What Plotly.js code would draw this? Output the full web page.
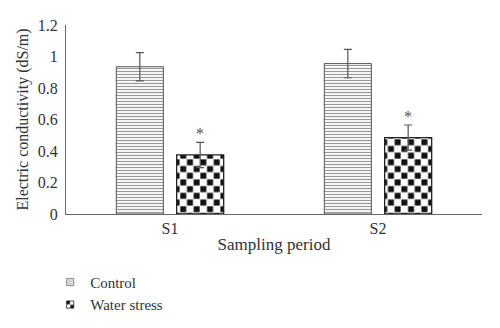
<!DOCTYPE html>
<html><head><meta charset="utf-8">
<script src="https://cdn.plot.ly/plotly-3.0.1.min.js"></script>
<style>html,body{margin:0;padding:0;background:#fff;}#chart{width:500px;height:328px;}</style>
</head><body><div id="chart"></div>
<script>
const categories = ["S1", "S2"];
const controlValues = [0.935, 0.955];
const controlErrors = [0.09, 0.09];
const stressValues = [0.375, 0.485];
const stressErrors = [0.08, 0.08];
const stressMarks = ["*", "*"];
const yTickVals = [0, 0.2, 0.4, 0.6, 0.8, 1, 1.2];
const yTickText = ["0", "0.2", "0.4", "0.6", "0.8", "1", "1.2"];

const serif = "Liberation Serif, Times New Roman, serif";
const traces = [
  {
    type: "bar", name: "Control", x: categories, y: controlValues,
    error_y: {type: "data", array: controlErrors, visible: true, color: "#555", thickness: 1.2, width: 4},
    marker: {color: "#fff", line: {color: "#555", width: 1},
      pattern: {shape: "-", fgcolor: "#999", bgcolor: "#fff", size: 3, solidity: 0.4}}
  },
  {
    type: "bar", name: "Water stress", x: categories, y: stressValues,
    error_y: {type: "data", array: stressErrors, visible: true, color: "#555", thickness: 1.2, width: 4},
    marker: {color: "#fff", line: {color: "#222", width: 1.3},
      pattern: {shape: ".", fgcolor: "#000", bgcolor: "#fff", size: 9, solidity: 0.3}}
  }
];
const annotations = categories.map((c, i) => ({
  x: c, y: stressValues[i] + stressErrors[i], xref: "x", yref: "y",
  text: stressMarks[i], showarrow: false, xshift: 30, yanchor: "bottom", yshift: -2,
  font: {family: serif, size: 16, color: "#555"}
}));
const layout = {
  width: 500, height: 328,
  margin: {l: 66, r: 18, t: 25, b: 114, autoexpand: false},
  paper_bgcolor: "#fff", plot_bgcolor: "#fff",
  barmode: "group", bargap: 0.42, bargroupgap: 0.22,
  font: {family: serif, size: 16, color: "#333"},
  showlegend: true,
  legend: {orientation: "v", x: -0.038, xanchor: "left", y: -0.274, yanchor: "top",
    font: {family: serif, size: 15, color: "#333"}, tracegroupgap: 0, itemwidth: 30},
  xaxis: {
    showline: true, linecolor: "#666", linewidth: 1, ticks: "", showgrid: false, zeroline: false,
    tickfont: {family: serif, size: 16, color: "#333"},
    title: {text: "Sampling period", font: {family: serif, size: 17, color: "#333"}, standoff: 1}
  },
  yaxis: {
    range: [0, 1.2], showline: true, linecolor: "#666", linewidth: 1, ticks: "", showgrid: false, zeroline: false,
    tickvals: yTickVals, ticktext: yTickText, ticklabelstandoff: 4,
    tickfont: {family: serif, size: 16, color: "#333"},
    title: {text: "Electric conductivity (dS/m)", font: {family: serif, size: 16, color: "#333"}, standoff: 5}
  },
  annotations: annotations
};

const ns = "http://www.w3.org/2000/svg";
function applyChecker(gd) {
  const svg = gd.querySelector("svg.main-svg");
  if (!svg) return;
  let defs = svg.querySelector("defs");
  if (!defs) { defs = document.createElementNS(ns, "defs"); svg.insertBefore(defs, svg.firstChild); }
  if (!document.getElementById("checkerpat")) {
    const s = 13.4, b = 6.0;
    const p = document.createElementNS(ns, "pattern");
    p.setAttribute("id", "checkerpat");
    p.setAttribute("patternUnits", "userSpaceOnUse");
    p.setAttribute("width", s); p.setAttribute("height", s);
    const bg = document.createElementNS(ns, "rect");
    bg.setAttribute("x", 0); bg.setAttribute("y", 0); bg.setAttribute("width", s); bg.setAttribute("height", s);
    bg.setAttribute("fill", "#fff"); p.appendChild(bg);
    [[0.35, 0.35], [s / 2 + 0.35, s / 2 + 0.35]].forEach(([x, y]) => {
      const r = document.createElementNS(ns, "rect");
      r.setAttribute("x", x); r.setAttribute("y", y); r.setAttribute("width", b); r.setAttribute("height", b);
      r.setAttribute("fill", "#111"); p.appendChild(r);
    });
    defs.appendChild(p);
  }
  const traceGroups = gd.querySelectorAll(".barlayer .trace");
  if (traceGroups.length > 1) {
    traceGroups[1].querySelectorAll(".point path").forEach(el => {
      el.style.fill = "url(#checkerpat)";
    });
  }
  const legendItems = gd.querySelectorAll(".legend .traces");
  legendItems.forEach((it, i) => {
    it.querySelectorAll(".legendpoints path").forEach(el => {
      if (!el.dataset.scaled) {
        const t = el.getAttribute("transform") || "";
        el.setAttribute("transform", t + " scale(0.6)");
        el.dataset.scaled = "1";
      }
      if (i === 1) el.style.fill = "url(#checkerpat)";
    });
  });
}
Plotly.newPlot("chart", traces, layout, {displayModeBar: false, staticPlot: true}).then(gd => {
  applyChecker(gd);
  gd.on("plotly_afterplot", () => applyChecker(gd));
  setTimeout(() => applyChecker(gd), 50);
  setTimeout(() => applyChecker(gd), 300);
});
</script></body></html>
